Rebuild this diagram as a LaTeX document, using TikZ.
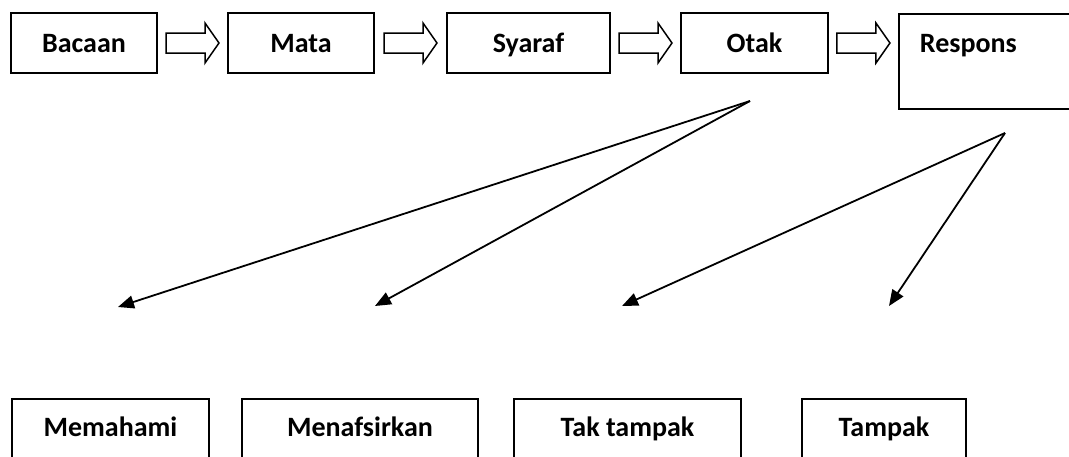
\documentclass[tikz,border=0pt]{standalone}
\usepackage{fontspec}
\setmainfont{Carlito}
\usetikzlibrary{arrows.meta,calc}
\begin{document}
\begin{tikzpicture}[x=1pt,y=-1pt,
  box/.style={draw,line width=1.8pt,inner sep=0pt,font=\fontsize{28}{33}\selectfont\bfseries,text height=23pt,text depth=5pt},
  topbox/.style={box,minimum height=60pt},
  botbox/.style={box,anchor=north,minimum height=80pt,text depth=27pt},
  blockarrow/.style={draw,line width=1.5pt,line join=miter},
  link/.style={line width=1.8pt,-{Triangle[length=16pt,width=13pt]}}]
\useasboundingbox (0,0) rectangle (1069,456);
\clip (0,0) rectangle (1069,456);
% top row
\node[topbox,minimum width=146pt] (bacaan) at (84,43) {Bacaan};
\node[topbox,minimum width=146pt] (mata) at (301,43) {Mata};
\node[topbox,minimum width=163pt] (syaraf) at (528.5,43) {Syaraf};
\node[topbox,minimum width=147pt] (otak) at (754.5,43) {Otak};
\node[box,anchor=north west,align=left,text width=130pt,inner xsep=21pt,inner ysep=0pt,text height=39pt,text depth=56pt] (respons) at (898,13) {Respons};
% block arrows
\coordinate (a1) at ($(bacaan.east)!0.5!(mata.west)$);
\coordinate (a2) at ($(mata.east)!0.5!(syaraf.west)$);
\coordinate (a3) at ($(syaraf.east)!0.5!(otak.west)$);
\coordinate (a4) at ($(otak.east)!0.5!(respons.west |- otak.east)$);
\foreach \c in {a1,a2,a3,a4}
  \draw[blockarrow] ($(\c)+(-26.5,-10)$) -- ++(39,0) -- ++(0,-10) -- ++(14,20) -- ++(-14,20) -- ++(0,-10) -- ++(-39,0) -- cycle;
% bottom row
\node[botbox,minimum width=197pt] (memahami) at (110.5,398) {Memahami};
\node[botbox,minimum width=236pt] (menafsirkan) at (360,398) {Menafsirkan};
\node[botbox,minimum width=227pt] (taktampak) at (627.5,398) {Tak tampak};
\node[botbox,minimum width=164pt] (tampak) at (884,398) {Tampak};
% connectors
\coordinate (otaksrc) at (750,101);
\coordinate (respsrc) at (1005,133);
\coordinate (t1) at (118,307);
\coordinate (t2) at (375,306);
\coordinate (t3) at (622,306);
\coordinate (t4) at (889,306);
\draw[link] (otaksrc) -- (t1);
\draw[link] (otaksrc) -- (t2);
\draw[link] (respsrc) -- (t3);
\draw[link] (respsrc) -- (t4);
\end{tikzpicture}
\end{document}
